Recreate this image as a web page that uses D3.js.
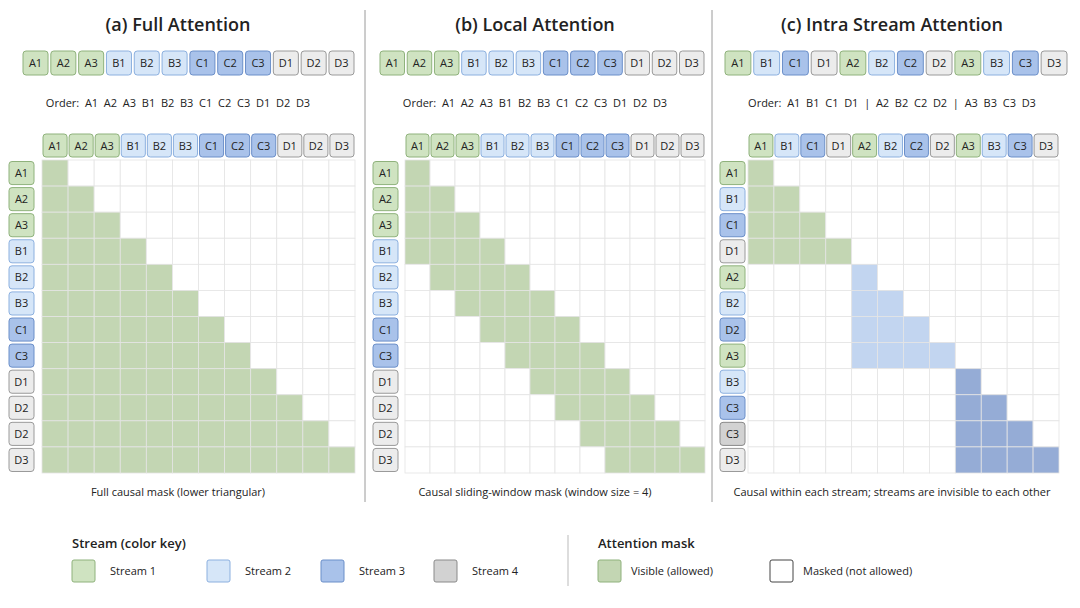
<!DOCTYPE html>
<html>
<head>
<meta charset="UTF-8">
<script src="https://d3js.org/d3.v7.min.js"></script>
<style>
  body { margin: 0; background: #fff; font-family: "Open Sans", "DejaVu Sans", sans-serif; }
  svg text { fill: #222; }
</style>
</head>
<body>
<svg id="chart" width="1080" height="608"></svg>
<script>
// ---- data ----
const titles = ["(a) Full Attention", "(b) Local Attention", "(c) Intra Stream Attention"];
const captions = [
  "Full causal mask (lower triangular)",
  "Causal sliding-window mask (window size = 4)",
  "Causal within each stream; streams are invisible to each other"
];
const orderTexts = [
  "Order:  A1  A2  A3  B1  B2  B3  C1  C2  C3  D1  D2  D3",
  "Order:  A1  A2  A3  B1  B2  B3  C1  C2  C3  D1  D2  D3",
  "Order:  A1  B1  C1  D1  |  A2  B2  C2  D2  |  A3  B3  C3  D3"
];
const seqTokens = [
  ["A1","A2","A3","B1","B2","B3","C1","C2","C3","D1","D2","D3"],
  ["A1","A2","A3","B1","B2","B3","C1","C2","C3","D1","D2","D3"],
  ["A1","B1","C1","D1","A2","B2","C2","D2","A3","B3","C3","D3"]
];
// row labels as printed in the picture, with their colour key (s1..s4, s4d = darker grey)
const rowLabels = [
  ["A1","A2","A3","B1","B2","B3","C1","C3","D1","D2","D2","D3"],
  ["A1","A2","A3","B1","B2","B3","C1","C3","D1","D2","D2","D3"],
  ["A1","B1","C1","D1","A2","B2","D2","A3","B3","C3","C3","D3"]
];
const rowKeys = [
  ["s1","s1","s1","s2","s2","s2","s3","s3","s4","s4","s4","s4"],
  ["s1","s1","s1","s2","s2","s2","s3","s3","s4","s4","s4","s4"],
  ["s1","s2","s3","s4","s1","s2","s3","s1","s2","s3","s4d","s4"]
];
const windowSize = 4;
const blockSize = 4;
const blockFills = ["#c3d6b3", "#c2d5f0", "#95acd6"];
const streamNames = ["Stream 1", "Stream 2", "Stream 3", "Stream 4"];
const maskNames = ["Visible (allowed)", "Masked (not allowed)"];

const tokenStyle = {
  s1: { fill: "#cfe3c1", stroke: "#8fb27c" },
  s2: { fill: "#d6e6f8", stroke: "#8cb0df" },
  s3: { fill: "#a9c2ea", stroke: "#6b8fc9" },
  s4: { fill: "#ececec", stroke: "#9a9a9a" },
  s4d: { fill: "#d2d2d2", stroke: "#8a8a8a" }
};
const keyOf = t => ({A: "s1", B: "s2", C: "s3", D: "s4"})[t[0]];

// mask functions
const masks = [
  (r, c) => c <= r ? "#c3d6b3" : null,
  (r, c) => (c <= r && c > r - windowSize) ? "#c3d6b3" : null,
  (r, c) => (Math.floor(r / blockSize) === Math.floor(c / blockSize) && c <= r) ? blockFills[Math.floor(r / blockSize)] : null
];

// layout per panel
const panels = [
  { cx: 178, tokX0: 23, tokX1: 354, gridX: 42, gridW: 313, labX: 9 },
  { cx: 535, tokX0: 380, tokX1: 704, gridX: 405, gridW: 300, labX: 373 },
  { cx: 892, tokX0: 725, tokX1: 1067, gridX: 748, gridW: 311, labX: 720 }
];
const gridY = 160, gridH = 313;

const svg = d3.select("#chart");

function token(g, x, y, w, h, label, key) {
  const st = tokenStyle[key];
  g.append("rect").attr("x", x).attr("y", y).attr("width", w).attr("height", h)
    .attr("rx", 3).attr("fill", st.fill).attr("stroke", st.stroke).attr("stroke-width", 1);
  g.append("text").attr("x", x + w / 2).attr("y", y + h / 2 + 4).attr("text-anchor", "middle")
    .attr("font-size", 11).text(label);
}

panels.forEach((p, pi) => {
  const g = svg.append("g");
  g.append("text").attr("x", p.cx).attr("y", 31).attr("text-anchor", "middle")
    .attr("font-size", 18).attr("font-weight", 600).text(titles[pi]);

  // sequence row
  const seqX = d3.scaleBand().domain(d3.range(12)).range([p.tokX0, p.tokX1]).paddingInner(0.1);
  seqTokens[pi].forEach((t, i) => token(g, seqX(i), 51, seqX.bandwidth(), 24, t, keyOf(t)));

  g.append("text").attr("x", p.cx).attr("y", 107).attr("text-anchor", "middle")
    .attr("font-size", 11).attr("xml:space", "preserve").text(orderTexts[pi]);

  // grid
  const x = d3.scaleBand().domain(d3.range(12)).range([p.gridX, p.gridX + p.gridW]);
  const y = d3.scaleBand().domain(d3.range(12)).range([gridY, gridY + gridH]);
  const cells = [];
  d3.range(12).forEach(r => d3.range(12).forEach(c => cells.push({ r, c, f: masks[pi](r, c) })));
  g.selectAll(".cell" + pi).data(cells).join("rect")
    .attr("x", d => x(d.c)).attr("y", d => y(d.r))
    .attr("width", x.bandwidth()).attr("height", y.bandwidth())
    .attr("fill", d => d.f || "#fff").attr("stroke", "#e4e4e4").attr("stroke-width", 0.8);

  // column headers
  seqTokens[pi].forEach((t, i) =>
    token(g, x(i) + 1, 134, x.bandwidth() - 2, 23, t, keyOf(t)));
  // row labels
  rowLabels[pi].forEach((t, i) =>
    token(g, p.labX, y(i) + 1.5, 25, y.bandwidth() - 3, t, rowKeys[pi][i]));

  g.append("text").attr("x", p.cx).attr("y", 496).attr("text-anchor", "middle")
    .attr("font-size", 11).text(captions[pi]);
});

// separators
[365, 712].forEach(sx => svg.append("line").attr("x1", sx).attr("x2", sx).attr("y1", 10).attr("y2", 502)
  .attr("stroke", "#9a9a9a").attr("stroke-width", 1));
svg.append("line").attr("x1", 568).attr("x2", 568).attr("y1", 535).attr("y2", 586)
  .attr("stroke", "#bbb");

// legend
const leg = svg.append("g");
leg.append("text").attr("x", 72).attr("y", 548).attr("font-size", 13).attr("font-weight", 600).text("Stream (color key)");
const legX = [72, 207, 321, 434];
streamNames.forEach((n, i) => {
  const st = tokenStyle[["s1","s2","s3","s4d"][i]];
  leg.append("rect").attr("x", legX[i]).attr("y", 560).attr("width", 23).attr("height", 22).attr("rx", 2)
    .attr("fill", st.fill).attr("stroke", st.stroke);
  leg.append("text").attr("x", legX[i] + 38).attr("y", 575).attr("font-size", 11).text(n);
});
leg.append("text").attr("x", 598).attr("y", 548).attr("font-size", 13).attr("font-weight", 600).text("Attention mask");
const maskX = [598, 770];
maskNames.forEach((n, i) => {
  leg.append("rect").attr("x", maskX[i]).attr("y", 560).attr("width", 23).attr("height", 22).attr("rx", 2)
    .attr("fill", i === 0 ? "#c3d6b3" : "#fff").attr("stroke", i === 0 ? "#8fb27c" : "#444");
  leg.append("text").attr("x", maskX[i] + 33).attr("y", 575).attr("font-size", 11).text(n);
});
</script>
</body>
</html>
